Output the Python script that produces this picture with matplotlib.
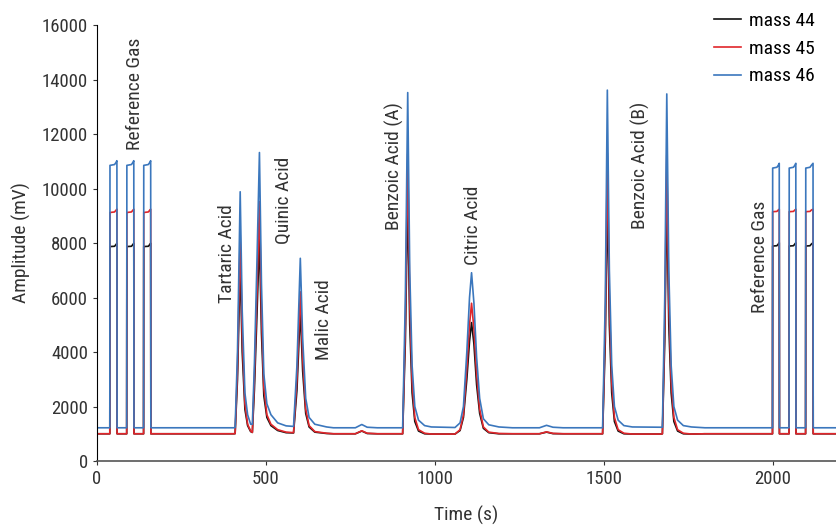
import matplotlib
matplotlib.use("Agg")
import matplotlib.pyplot as plt

plt.rcParams['font.family'] = ['Roboto Condensed', 'Roboto', 'DejaVu Sans']
plt.rcParams['font.stretch'] = 'condensed'

# time vertices (s) and amplitudes (mV)
time = [0, 38, 38.5, 52, 56, 59, 59.5,
        88, 88.5, 102, 106, 109, 109.5,
        138, 138.5, 152, 156, 159, 159.5,
        405, 409, 416, 424, 430, 438, 446, 455, 460, 466, 474, 481, 487, 494,
        503, 515, 535, 560, 582, 592, 602, 609, 618, 628, 645, 680, 700,
        765, 784, 800, 830,
        905, 913, 920, 926, 933, 941, 952, 970, 990, 1060, 1075,
        1085, 1095, 1103, 1109, 1116, 1124, 1133, 1144, 1160, 1190, 1230,
        1310, 1331, 1350, 1380,
        1497, 1505, 1511, 1517, 1524, 1532, 1543, 1560, 1585, 1670,
        1674, 1681, 1687, 1693, 1700, 1708, 1719, 1736, 1760, 1800,
        2000, 2000.5, 2013, 2017, 2020, 2020.5,
        2049, 2049.5, 2062, 2066, 2069, 2069.5,
        2098, 2098.5, 2111, 2115, 2120, 2120.5, 2190]

mass44 = [1000, 1000, 7870, 7880, 7940, 7990, 1000,
          1000, 7870, 7880, 7940, 7990, 1000,
          1000, 7870, 7880, 7940, 7990, 1000,
          1000, 1005, 3000, 7250, 4000, 1900, 1300, 1080, 1050, 2600, 5500, 8220, 4700, 2400,
          1600, 1300, 1120, 1040, 1030, 2600, 5540, 3300, 1750, 1250, 1060, 1010, 1000,
          1000, 1100, 1010, 1000,
          1000, 4400, 9750, 5000, 2500, 1450, 1100, 1000, 990, 990, 1120,
          1600, 3000, 4400, 5080, 4300, 2800, 1750, 1200, 1040, 1000, 1000,
          1000, 1060, 1005, 1000,
          1000, 4400, 9820, 5000, 2500, 1450, 1100, 1000, 990, 990,
          1000, 4400, 9770, 5000, 2500, 1450, 1100, 1000, 990, 1000,
          1000, 7890, 7900, 7960, 8010, 1000,
          1000, 7890, 7900, 7960, 8010, 1000,
          1000, 7890, 7900, 7960, 8010, 1000, 1000]

mass45 = [1000, 1000, 9120, 9140, 9200, 9240, 1000,
          1000, 9120, 9140, 9200, 9240, 1000,
          1000, 9120, 9140, 9200, 9240, 1000,
          1000, 1010, 3400, 8290, 4600, 2100, 1350, 1100, 1050, 3000, 6300, 9520, 5400, 2700,
          1700, 1350, 1150, 1060, 1040, 3000, 6210, 3800, 1900, 1300, 1080, 1020, 1000,
          1000, 1110, 1020, 1000,
          1000, 5000, 11270, 5800, 2900, 1600, 1150, 1020, 990, 990, 1150,
          1700, 3400, 5000, 5790, 4850, 3200, 1900, 1250, 1060, 1010, 1000,
          1000, 1070, 1015, 1000,
          1000, 5000, 11290, 5800, 2900, 1600, 1150, 1020, 990, 990,
          1000, 5000, 11230, 5800, 2900, 1600, 1150, 1020, 990, 1000,
          1000, 9150, 9160, 9210, 9240, 1000,
          1000, 9150, 9160, 9210, 9240, 1000,
          1000, 9150, 9160, 9210, 9240, 1000, 1000]

mass46 = [1220, 1220, 10850, 10880, 10950, 11020, 1220,
          1220, 10850, 10880, 10950, 11020, 1220,
          1220, 10850, 10880, 10950, 11020, 1220,
          1220, 1230, 4000, 9880, 5500, 2500, 1700, 1350, 1350, 3500, 7500, 11320, 6500, 3200,
          2100, 1700, 1400, 1290, 1270, 3500, 7440, 4500, 2300, 1600, 1350, 1250, 1220,
          1220, 1340, 1240, 1220,
          1220, 6000, 13520, 7000, 3500, 2000, 1500, 1300, 1250, 1230, 1400,
          2000, 4000, 6000, 6910, 5800, 3800, 2300, 1550, 1330, 1250, 1220,
          1220, 1310, 1240, 1220,
          1220, 6000, 13610, 7000, 3500, 2000, 1500, 1300, 1250, 1240,
          1240, 6000, 13470, 7000, 3500, 2000, 1500, 1300, 1250, 1220,
          1220, 10750, 10780, 10850, 10925, 1220,
          1220, 10750, 10780, 10850, 10925, 1220,
          1220, 10750, 10780, 10850, 10925, 1220, 1220]

series = [("mass 44", mass44, "#111111"),
          ("mass 45", mass45, "#e0262b"),
          ("mass 46", mass46, "#3b77bd")]

peak_labels = ["Reference Gas", "Tartaric Acid", "Quinic Acid", "Malic Acid",
               "Benzoic Acid (A)", "Citric Acid", "Benzoic Acid (B)", "Reference Gas"]
label_x = [113, 386, 555, 673, 880, 1113, 1609, 1963]
label_y = [11400, 5800, 7950, 3700, 8480, 7200, 8520, 5430]

fig = plt.figure(figsize=(8.36, 5.29), dpi=100)
ax = fig.add_axes([0.116, 0.1285, 0.884, 0.8242])

for name, vals, col in series:
    ax.plot(time, vals, color=col, lw=1.2, label=name)

for lab, x, y in zip(peak_labels, label_x, label_y):
    ax.text(x, y, lab, rotation=90, ha="center", va="bottom",
            fontsize=14, color="#333333")

ax.set_xlim(0, 2188)
ax.set_ylim(0, 16000)
ax.set_yticks(range(0, 16001, 2000))
ax.set_xticks([0, 500, 1000, 1500, 2000])
ax.tick_params(labelsize=13.5, colors="#333333", length=3)
ax.set_xlabel("Time (s)", fontsize=14, color="#333333", labelpad=13)
ax.set_ylabel("Amplitude (mV)", fontsize=14, color="#333333", labelpad=8)
ax.spines["top"].set_visible(False)
ax.spines["right"].set_visible(False)
ax.spines["bottom"].set_color("#555555")
ax.spines["bottom"].set_linewidth(1.2)

ax.legend(loc="upper right", bbox_to_anchor=(0.995, 1.07), frameon=False,
          fontsize=14, handlelength=1.4, labelspacing=0.5, handletextpad=0.4)

fig.savefig("out.png", dpi=100)
